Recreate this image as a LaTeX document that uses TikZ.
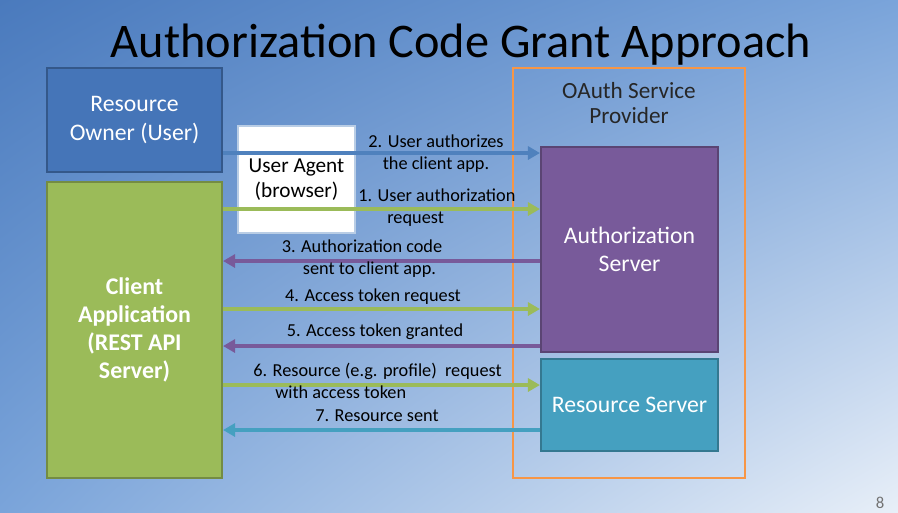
\documentclass[tikz,border=0pt]{standalone}
\usepackage{fontspec}
\setmainfont{Carlito}
\usepackage{xcolor}
\usetikzlibrary{arrows.meta, shadings}

\definecolor{bgdark}{HTML}{4A7ABD}
\definecolor{bgmid}{HTML}{7AA4DA}
\definecolor{bglight}{HTML}{E8EFF8}
\definecolor{ownerblue}{HTML}{4575B8}
\definecolor{clientgreen}{HTML}{9BBB59}
\definecolor{authpurple}{HTML}{785A9A}
\definecolor{restteal}{HTML}{45A0C0}
\definecolor{provorange}{HTML}{F79646}
\definecolor{msgblue}{HTML}{4F81BD}

\tikzset{
  box/.style={draw, rectangle, line width=1.2pt, text=white, font=\fontsize{13.5}{16}\selectfont, align=center, inner sep=0pt},
  msg/.style={line width=1.8pt, -{Triangle[length=0.24cm, width=0.26cm]}},
  lbl/.style={font=\fontsize{10.4}{12.5}\selectfont, text=black, inner sep=0pt}
}

\begin{document}
\begin{tikzpicture}[x=0.02cm, y=-0.02cm]
    % Background
    \shade[upper left=bgdark, upper right=bgmid, lower left=bgmid, lower right=bglight] (0,0) rectangle (898,512);
    \useasboundingbox (0,0) rectangle (898,512);

    % Title
    \node[font=\fontsize{27.5}{32}\selectfont] (title) at (461,45) {Authorization Code Grant Approach};

    % Left side: owner, client, browser
    \node[box, fill=ownerblue, draw=ownerblue!75!black, minimum width=3.5cm, minimum height=2.08cm] (owner) at (134.5,120) {Resource\\Owner (User)};
    \node[box, fill=clientgreen, draw=clientgreen!75!black, minimum width=3.5cm, minimum height=5.92cm, font=\fontsize{13.6}{16}\selectfont\bfseries] (client) at (134.5,330) {Client\\Application\\(REST API\\Server)};
    \node[box, fill=white, draw=msgblue!40, text=black, line width=0.6pt, minimum width=2.34cm, minimum height=2.14cm, font=\fontsize{12.1}{14}\selectfont] (agent) at (296.5,179.5) {User Agent\\(browser)};

    % OAuth provider
    \node[draw=provorange, line width=1.2pt, rectangle, minimum width=4.64cm, minimum height=8.2cm] (provider) at (629,273) {};
    \node[font=\fontsize{13.2}{14.5}\selectfont, align=center, text=black!85] (provlbl) at (629,103) {OAuth Service\\Provider};
    \node[box, fill=authpurple, draw=authpurple!75!black, minimum width=3.54cm, minimum height=4.1cm] (authsrv) at (629.5,249.5) {Authorization\\Server};
    \node[box, fill=restteal, draw=restteal!75!black, minimum width=3.54cm, minimum height=1.84cm] (ressrv) at (629.5,405) {Resource Server};

    % Messages
    \draw[msg, msgblue] (owner.east |- 0,153) -- (authsrv.west |- 0,153);
    \draw[msg, clientgreen] (client.east |- 0,209) -- (authsrv.west |- 0,209);
    \draw[msg, authpurple] (authsrv.west |- 0,261) -- (client.east |- 0,261);
    \draw[msg, clientgreen] (client.east |- 0,309) -- (authsrv.west |- 0,309);
    \draw[msg, authpurple] (authsrv.west |- 0,346) -- (client.east |- 0,346);
    \draw[msg, clientgreen] (client.east |- 0,385) -- (ressrv.west |- 0,385);
    \draw[msg, restteal] (ressrv.west |- 0,430) -- (client.east |- 0,430);

    % Message labels
    \node[lbl, align=center] (l2) at (436,154) {2. User authorizes\\the client app.};
    \node[lbl, align=left, anchor=west] (l1) at (358,208) {1. User authorization\\\hspace*{0.58cm}request};
    \node[lbl, align=center] (l3) at (362,259) {3. Authorization code\\\hspace*{0.3cm}sent to client app.};
    \node[lbl] (l4) at (373,297) {4. Access token request};
    \node[lbl] (l5) at (375,332) {5. Access token granted};
    \node[lbl, align=left, anchor=west] (l6) at (253,381) {6. Resource (e.g. profile)\ \ request\\\hspace*{0.44cm}with access token};
    \node[lbl] (l7) at (377,416) {7. Resource sent};

    % Slide number
    \node[font=\fontsize{9.5}{11}\selectfont, text=black!55] (pagenum) at (880,503) {8};
\end{tikzpicture}
\end{document}
